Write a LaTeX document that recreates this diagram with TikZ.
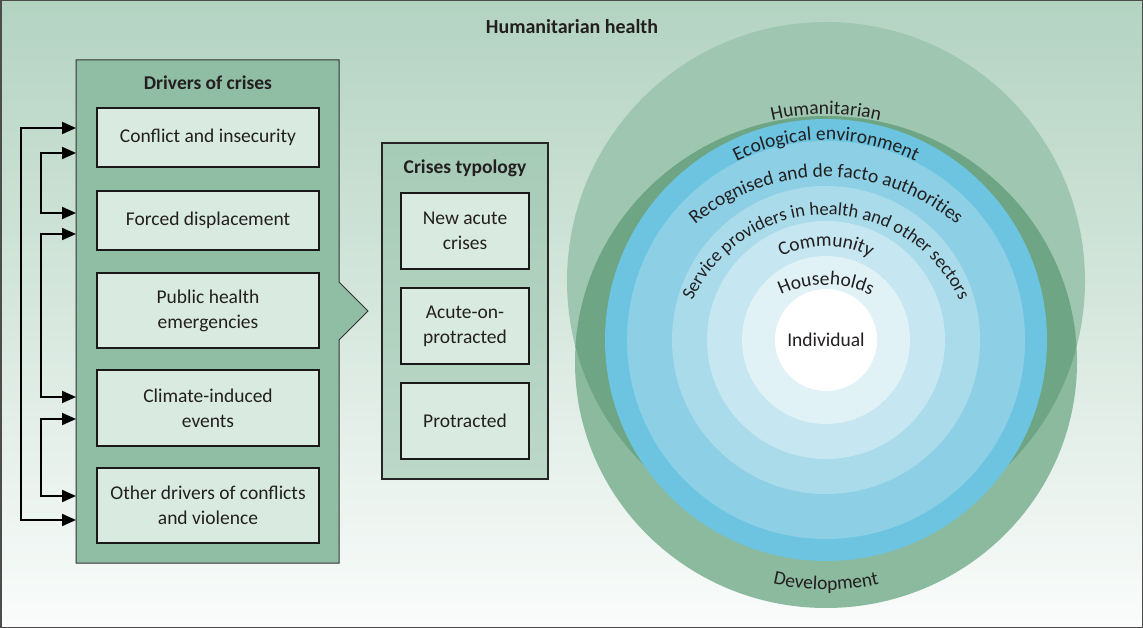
\documentclass[tikz,border=0pt]{standalone}
\usepackage{fontspec}
\setmainfont{Carlito}
\usepackage{xcolor}
\usetikzlibrary{arrows.meta,positioning,calc,decorations.text}
\definecolor{bgtop}{HTML}{B3D3C1}
\definecolor{bgbot}{HTML}{FAFCFB}
\definecolor{drvfill}{HTML}{8FBEA5}
\definecolor{boxfill}{HTML}{D9EBE1}
\definecolor{typtop}{HTML}{A6CBB6}
\definecolor{typbot}{HTML}{BCD8C8}
\definecolor{humfill}{HTML}{9FC6B1}
\definecolor{devfill}{HTML}{8CBA9F}
\definecolor{ovlfill}{HTML}{6EA584}
\definecolor{ringA}{HTML}{6CC4E0}
\definecolor{ringB}{HTML}{8DD0E5}
\definecolor{ringC}{HTML}{A9DBEA}
\definecolor{ringD}{HTML}{C6E7F1}
\definecolor{ringE}{HTML}{E1F2F7}
\definecolor{ink}{HTML}{231F20}
\newcommand\ringfont{\fontsize{19.5}{23}\selectfont}
\newcommand\ringfontsm{\fontsize{18.5}{22}\selectfont}

\begin{document}
\begin{tikzpicture}[x=1pt,y=1pt,
  every node/.style={font=\fontsize{19.5}{25}\selectfont, text=ink},
  headnode/.style={font=\bfseries\fontsize{19.5}{23}\selectfont},
  drvbox/.style={draw=black!90, line width=2pt, fill=boxfill, minimum width=222pt, align=center, inner sep=0pt},
  typbox/.style={drvbox, minimum width=128pt, minimum height=76pt},
  link/.style={line width=2pt, {Triangle[length=14pt,width=12pt]}-{Triangle[length=14pt,width=12pt]}},
  ringtext/.style={decorate, decoration={text along path, text align=center, text color=ink, text={|\ringfont|#1}}}]
  \useasboundingbox (0,0) rectangle (1143,-628);
  \shade[top color=bgtop, bottom color=bgbot] (0,0) rectangle (1143,-628);
  \node[headnode, font=\bfseries\fontsize{20}{24}\selectfont] (title) at (572,-27) {Humanitarian health};

  \draw[black!80, line width=1pt, fill=drvfill] (76,-60) -| (339,-282) -- (368,-311) -- (339,-340) |- (76,-563) -- cycle;
  \node[headnode] (drvtitle) at (208,-83) {Drivers of crises};
  \node[drvbox, minimum height=59pt] (conflict) at (208,-137.5) {Conflict and insecurity};
  \node[drvbox, minimum height=59pt] (displace) at (208,-220.5) {Forced displacement};
  \node[drvbox, minimum height=75pt] (pubhealth) at (208,-310.5) {Public health\\emergencies};
  \node[drvbox, minimum height=76pt] (climate) at (208,-408) {Climate-induced\\events};
  \node[drvbox, minimum height=75pt] (otherdrv) at (208,-505.5) {Other drivers of conflicts\\and violence};

  \foreach \n/\b/\dy in {a1/conflict/9.5, a2/conflict/-15.5, a3/displace/7.5, a4/displace/-13.5,
                         a5/climate/11, a6/climate/-11, a7/otherdrv/9.5, a8/otherdrv/-14.5}
    \coordinate (\n) at ($(\b.west)+(-20,\dy)$);
  \draw[link] (a1) -- ++(-55,0) |- (a8);
  \draw[link] (a2) -- ++(-35,0) |- (a3);
  \draw[link] (a4) -- ++(-35,0) |- (a5);
  \draw[link] (a6) -- ++(-35,0) |- (a7);

  \draw[black!85, line width=1.6pt, top color=typtop, bottom color=typbot] (382,-143) rectangle (548,-479);
  \node[headnode] (typtitle) at (465,-168) {Crises typology};
  \node[typbox] (newacute) at (465,-231) {New acute\\crises};
  \node[typbox] (acuteon) at (465,-326) {Acute-on-\\protracted};
  \node[typbox] (protracted) at (465,-421) {Protracted};

  \coordinate (ctr) at (826,-340);
  \coordinate (hctr) at (826,-281);
  \coordinate (dctr) at (826,-362);
  \fill[humfill] (hctr) circle[radius=259];
  \fill[devfill] (dctr) ellipse[x radius=251, y radius=246];
  \begin{scope}
    \clip (hctr) circle[radius=259];
    \fill[ovlfill] (dctr) ellipse[x radius=251, y radius=246];
  \end{scope}
  \foreach \r/\c in {221/ringA,199/ringB,154/ringC,119/ringD,84/ringE,51/white}
    \fill[\c] (ctr) circle[radius=\r];

  \node (individual) at (ctr) {Individual};
  \path[ringtext={Humanitarian}] ([shift={(120:226)}]ctr) arc[start angle=120, end angle=60, radius=226];
  \path[ringtext={Ecological environment}] ([shift={(140:200)}]ctr) arc[start angle=140, end angle=40, radius=200];
  \path[ringtext={Recognised and de facto authorities}] ([shift={(150:203)}]826,-380) arc[start angle=150, end angle=30, radius=203];
  \path[decorate, decoration={text along path, text align=center, text color=ink,
        text={|\ringfontsm|Service providers in health and other sectors}}]
    ([shift={(178:147)}]826,-362) arc[start angle=178, end angle=2, radius=147];
  \path[ringtext={Community}] ([shift={(150:94)}]ctr) arc[start angle=150, end angle=30, radius=94];
  \path[ringtext={Households}] ([shift={(140:105)}]826,-390) arc[start angle=140, end angle=40, radius=105];
  \path[ringtext={Development}] ([shift={(235:228)}]dctr) arc[start angle=235, end angle=305, radius=228];

  \draw[black!70, line width=1.5pt] (0.75,-0.75) rectangle (1142.25,-627.25);
\end{tikzpicture}
\end{document}
